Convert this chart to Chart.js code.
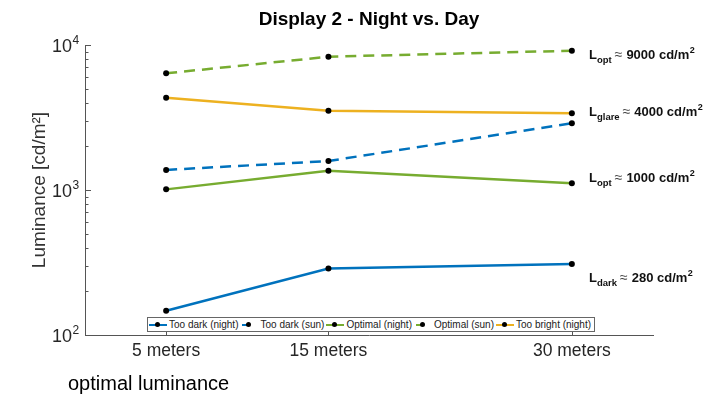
<!DOCTYPE html>
<html>
<head>
<meta charset="utf-8">
<script src="https://cdn.jsdelivr.net/npm/chart.js@4.4.0/dist/chart.umd.min.js"></script>
<style>
body { margin: 0; background: #fff; font-family: "Liberation Sans", Arial, sans-serif; }
#wrap { position: relative; width: 725px; height: 398px; }
#legende { position: absolute; left: 147px; top: 317px; height: 13px; border: 1px solid #666; background: #fff;
  display: flex; align-items: center; font-size: 10px; color: #222; white-space: nowrap; padding: 0 1px 0 1px; }
.eintrag { display: flex; align-items: center; margin-right: 2px; }
.probe { position: relative; width: 18px; height: 2px; margin-right: 2px; }
.probe i { position: absolute; left: 6px; top: -2px; width: 5px; height: 5px; border-radius: 50%; background: #000; }
#unten { position: absolute; left: 68px; top: 372px; font-size: 20px; color: #000; }
</style>
</head>
<body>
<div id="wrap">
  <canvas id="leuchtChart"></canvas>
  <div id="legende"></div>
  <div id="unten">optimal luminance</div>
</div>
<script>
// Werte
var entfernung = [5, 15, 30];
var zuDunkelNacht = [147, 287, 309];
var zuDunkelSonne = [1375, 1585, 2885];
var optimalNacht = [1010, 1360, 1115];
var optimalSonne = [6380, 8300, 9135];
var zuHellNacht = [4330, 3525, 3380];

var yTickWerte = [100, 1000, 10000];
var yTickHochzahl = ['2', '3', '4'];

var hinweisIndex = ['opt', 'glare', 'opt', 'dark'];
var hinweisWert = ['9000', '4000', '1000', '280'];

var blau = '#0072BD', gruen = '#77AC30', orange = '#EDB120';

var reihen = [
    { label: 'Too dark (night)', werte: zuDunkelNacht, farbe: blau, gestrichelt: false },
    { label: 'Too dark (sun)', werte: zuDunkelSonne, farbe: blau, gestrichelt: true },
    { label: 'Optimal (night)', werte: optimalNacht, farbe: gruen, gestrichelt: false },
    { label: 'Optimal (sun)', werte: optimalSonne, farbe: gruen, gestrichelt: true },
    { label: 'Too bright (night)', werte: zuHellNacht, farbe: orange, gestrichelt: false }
];

var datasets = reihen.map(function(r) {
    return {
        label: r.label,
        data: r.werte.map(function(v, i) { return { x: entfernung[i], y: v }; }),
        borderColor: r.farbe,
        borderWidth: 2.5,
        borderDash: r.gestrichelt ? [11, 7] : [],
        pointRadius: 3,
        pointBorderWidth: 0,
        pointBackgroundColor: '#000',
        fill: false,
        tension: 0
    };
});

var schrift = '"Liberation Sans", Arial';

// Tick-Striche nach innen wie in MATLAB, dazu die 10^n Beschriftung
var achsen = {
    id: 'achsen',
    afterDraw: function(chart) {
        var ctx = chart.ctx, a = chart.chartArea;
        var xs = chart.scales.x, ys = chart.scales.y;
        ctx.save();
        ctx.strokeStyle = '#555';
        ctx.lineWidth = 1;
        ctx.beginPath();
        entfernung.forEach(function(v) {
            var px = Math.round(xs.getPixelForValue(v)) + 0.5;
            ctx.moveTo(px, a.bottom); ctx.lineTo(px, a.bottom - 5);
        });
        [100, 1000].forEach(function(dek) {
            for (var k = 1; k <= 10; k++) {
                var py = Math.round(ys.getPixelForValue(dek * k)) + 0.5;
                var len = (k === 1 || k === 10) ? 6 : 3.5;
                ctx.moveTo(a.left, py); ctx.lineTo(a.left + len, py);
            }
        });
        ctx.stroke();

        ctx.fillStyle = '#262626';
        yTickWerte.forEach(function(v, i) {
            var py = ys.getPixelForValue(v);
            ctx.font = '18px ' + schrift;
            ctx.textAlign = 'right';
            ctx.textBaseline = 'middle';
            ctx.fillText('10', a.left - 13, py + 2.5);
            ctx.font = '12px ' + schrift;
            ctx.textAlign = 'left';
            ctx.textBaseline = 'alphabetic';
            ctx.fillText(yTickHochzahl[i], a.left - 12.5, py - 1);
        });
        ctx.restore();
    }
};

// Beschriftungen rechts neben den Linien
var hinweise = {
    id: 'hinweise',
    afterDraw: function(chart) {
        var ctx = chart.ctx, a = chart.chartArea;
        var basis = [14, 71, 137, 237];
        ctx.save();
        ctx.fillStyle = '#111';
        ctx.textBaseline = 'alphabetic';
        hinweisIndex.forEach(function(idx, i) {
            var x = a.right - 64, y = a.top + basis[i];
            ctx.font = 'bold 13px ' + schrift;
            ctx.fillText('L', x, y); x += ctx.measureText('L').width;
            ctx.font = 'bold 9.5px ' + schrift;
            ctx.fillText(idx, x, y + 4); x += ctx.measureText(idx).width + 3;
            ctx.font = '14px ' + schrift;
            ctx.fillStyle = '#444';
            ctx.fillText('≈', x, y); x += ctx.measureText('≈').width + 4;
            ctx.fillStyle = '#111';
            ctx.font = 'bold 13px ' + schrift;
            var t = hinweisWert[i] + ' cd/m';
            ctx.fillText(t, x, y); x += ctx.measureText(t).width + 0.5;
            ctx.font = 'bold 9px ' + schrift;
            ctx.fillText('2', x, y - 6);
        });
        ctx.restore();
    }
};

var ctx = document.getElementById('leuchtChart').getContext('2d');
var leuchtChart = new Chart(ctx, {
    type: 'line',
    data: { datasets: datasets },
    options: {
        responsive: true, maintainAspectRatio: false, animation: false,
        layout: { padding: { left: 0, right: 72, top: 0, bottom: 0 } },
        plugins: {
            legend: { display: false },
            tooltip: { enabled: false },
            title: {
                display: true, text: 'Display 2 - Night vs. Day', fullSize: false, color: '#000',
                font: { family: schrift, size: 19, weight: 'bold' },
                padding: { top: 8.6, bottom: 13.6 }
            }
        },
        scales: {
            x: {
                type: 'linear', min: 0, max: 35,
                grid: { display: false, drawTicks: false },
                border: { display: true, color: '#555', width: 1 },
                afterBuildTicks: function(s) { s.ticks = entfernung.map(function(v) { return { value: v }; }); },
                afterFit: function(s) { s.height = 63; },
                ticks: {
                    autoSkip: false, maxRotation: 0, padding: 6, color: '#262626',
                    font: { family: schrift, size: 17.5 },
                    callback: function(v) { return v + ' meters'; }
                }
            },
            y: {
                type: 'logarithmic', min: 100, max: 10000,
                grid: { display: false, drawTicks: false },
                border: { display: true, color: '#555', width: 1 },
                afterBuildTicks: function(s) { s.ticks = yTickWerte.map(function(v) { return { value: v }; }); },
                afterFit: function(s) { s.width = 85; },
                ticks: { display: false },
                title: {
                    display: true, text: 'Luminance [cd/m²]', color: '#333',
                    font: { family: schrift, size: 19 },
                    padding: { top: 28, bottom: 0 }
                }
            }
        }
    },
    plugins: [achsen, hinweise]
});

// Legende als HTML, aus den Reihen gebaut
var legende = document.getElementById('legende');
reihen.forEach(function(r) {
    var e = document.createElement('span');
    e.className = 'eintrag';
    var p = document.createElement('span');
    p.className = 'probe';
    p.style.background = r.gestrichelt
        ? 'linear-gradient(to right, transparent 0 2px, ' + r.farbe + ' 2px 7px, transparent 7px 100%)'
        : r.farbe;
    p.appendChild(document.createElement('i'));
    e.appendChild(p);
    e.appendChild(document.createTextNode(r.label));
    legende.appendChild(e);
});
</script>
</body>
</html>
